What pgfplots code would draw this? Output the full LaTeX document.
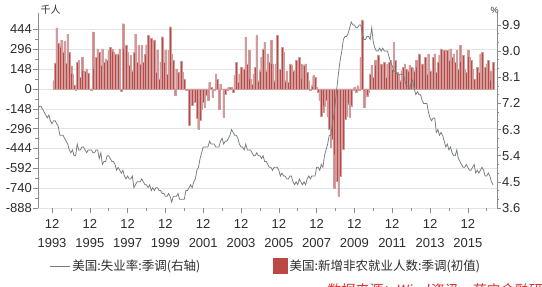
\documentclass[border=0pt]{standalone}
\usepackage{fontspec}
\setmainfont{Liberation Sans}
\newfontfamily\cjk{Noto Sans CJK SC}
\newfontfamily\cjkit[FakeSlant=0.2]{Noto Sans CJK SC}
\usepackage{pgfplots}
\usepackage{pgfplotstable}
\pgfplotsset{compat=1.18}
\definecolor{barred}{RGB}{188,72,70}
\definecolor{barpink}{RGB}{208,156,156}
\definecolor{linegray}{RGB}{115,125,120}
\definecolor{axgray}{RGB}{140,140,140}
\definecolor{gridgray}{RGB}{228,228,228}
\definecolor{txt}{RGB}{45,45,45}
\definecolor{wmred}{RGB}{225,45,45}

% US nonfarm payrolls change (thousands), monthly from 1994-01
\pgfplotstableread[row sep=\\]{
v\\
62\\194\\456\\344\\316\\365\\277\\355\\190\\410\\275\\174\\
112\\30\\-10\\200\\212\\87\\237\\137\\132\\150\\120\\0\\
-10\\427\\150\\237\\300\\275\\175\\300\\200\\225\\212\\287\\
312\\300\\275\\262\\250\\262\\300\\-15\\487\\300\\325\\275\\
175\\250\\137\\275\\410\\200\\325\\187\\325\\200\\260\\330\\
400\\100\\380\\185\\366\\125\\290\\75\\200\\390\\200\\290\\
110\\290\\465\\262\\212\\-45\\150\\125\\110\\210\\125\\75\\
-10\\0\\-270\\-20\\-120\\-45\\-100\\-220\\-300\\-235\\-150\\-100\\
-135\\-45\\-85\\50\\12\\-60\\-10\\112\\75\\-150\\37\\0\\
-210\\-37\\-12\\12\\12\\12\\-25\\100\\200\\50\\112\\162\\
50\\150\\387\\187\\290\\75\\37\\112\\162\\400\\62\\137\\
237\\300\\350\\137\\262\\200\\362\\187\\62\\187\\400\\75\\
150\\312\\275\\62\\130\\50\\187\\175\\137\\137\\212\\87\\
237\\187\\75\\180\\187\\125\\62\\-12\\25\\100\\87\\12\\
-25\\-85\\-200\\-175\\-125\\-85\\-200\\-300\\-437\\-375\\-737\\-487\\
-687\\-800\\-650\\-275\\-450\\-225\\-200\\-110\\-210\\-125\\-12\\12\\
-20\\25\\-12\\237\\515\\-137\\-12\\-50\\-25\\112\\175\\87\\
212\\175\\250\\112\\187\\100\\200\\87\\187\\200\\212\\150\\
350\\212\\125\\112\\62\\137\\162\\187\\150\\137\\175\\162\\
157\\137\\212\\162\\262\\125\\187\\112\\237\\112\\262\\137\\
87\\237\\262\\125\\200\\250\\300\\262\\287\\237\\287\\212\\
300\\237\\262\\200\\287\\150\\325\\200\\250\\150\\125\\287\\
237\\212\\150\\75\\25\\162\\125\\262\\275\\112\\162\\187\\
212\\137\\62\\200\\
}\nfp

% US unemployment rate (%), monthly from 1993-01
\pgfplotstableread[row sep=\\]{
u\\
7.3\\7.1\\7.0\\7.1\\7.1\\7.0\\6.9\\6.8\\6.7\\6.8\\6.6\\6.5\\
6.6\\6.6\\6.5\\6.4\\6.1\\6.1\\6.1\\6.0\\5.9\\5.8\\5.6\\5.5\\
5.6\\5.4\\5.4\\5.8\\5.6\\5.6\\5.7\\5.7\\5.6\\5.5\\5.6\\5.6\\
5.6\\5.5\\5.5\\5.6\\5.6\\5.3\\5.5\\5.1\\5.2\\5.2\\5.4\\5.4\\
5.3\\5.2\\5.2\\5.1\\4.9\\5.0\\4.9\\4.8\\4.9\\4.7\\4.6\\4.7\\
4.6\\4.6\\4.7\\4.3\\4.4\\4.5\\4.5\\4.5\\4.6\\4.5\\4.4\\4.4\\
4.3\\4.4\\4.2\\4.3\\4.2\\4.3\\4.3\\4.2\\4.2\\4.1\\4.1\\4.0\\
4.0\\4.1\\4.0\\3.8\\4.0\\4.0\\4.0\\4.1\\3.9\\3.9\\3.9\\3.9\\
4.2\\4.2\\4.3\\4.4\\4.3\\4.5\\4.6\\4.9\\5.0\\5.3\\5.5\\5.7\\
5.7\\5.7\\5.7\\5.9\\5.8\\5.8\\5.8\\5.7\\5.7\\5.7\\5.9\\6.0\\
5.8\\5.9\\5.9\\6.0\\6.1\\6.3\\6.2\\6.1\\6.1\\6.0\\5.8\\5.7\\
5.7\\5.6\\5.8\\5.6\\5.6\\5.6\\5.5\\5.4\\5.4\\5.5\\5.4\\5.4\\
5.3\\5.4\\5.2\\5.2\\5.1\\5.0\\5.0\\4.9\\5.0\\5.0\\5.0\\4.9\\
4.7\\4.8\\4.7\\4.7\\4.6\\4.6\\4.7\\4.7\\4.5\\4.4\\4.5\\4.4\\
4.6\\4.5\\4.4\\4.5\\4.4\\4.6\\4.7\\4.6\\4.7\\4.7\\4.7\\5.0\\
5.0\\4.9\\5.1\\5.0\\5.4\\5.6\\5.8\\6.1\\6.1\\6.5\\6.8\\7.3\\
7.8\\8.3\\8.7\\9.0\\9.4\\9.5\\9.5\\9.6\\9.8\\10.0\\9.9\\9.9\\
9.8\\9.8\\9.9\\9.9\\9.6\\9.4\\9.4\\9.5\\9.5\\9.4\\9.8\\9.3\\
9.1\\9.0\\9.0\\9.1\\9.0\\9.1\\9.0\\9.0\\9.0\\8.8\\8.6\\8.5\\
8.3\\8.3\\8.2\\8.2\\8.2\\8.2\\8.2\\8.0\\7.8\\7.8\\7.7\\7.9\\
8.0\\7.7\\7.5\\7.6\\7.5\\7.5\\7.3\\7.2\\7.2\\7.2\\6.9\\6.7\\
6.6\\6.7\\6.7\\6.2\\6.3\\6.1\\6.2\\6.1\\5.9\\5.7\\5.8\\5.6\\
5.7\\5.5\\5.4\\5.4\\5.6\\5.3\\5.2\\5.1\\5.0\\5.0\\5.1\\5.0\\
4.9\\4.9\\5.0\\5.1\\4.8\\4.9\\4.8\\4.9\\5.0\\4.9\\4.7\\4.7\\
4.8\\4.7\\4.5\\4.4\\
}\ur

\begin{document}
\begin{tikzpicture}
\path[use as bounding box] (0pt,0pt) rectangle (542pt,287pt);
\begin{axis}[
  at={(38pt,79pt)}, anchor=south west,
  width=459pt, height=195pt, scale only axis,
  xmin=1993.176, xmax=2017.46, ymin=-888, ymax=567,
  axis y line*=left, axis x line*=bottom,
  x axis line style={draw=none},
  y axis line style={axgray, line width=0.8pt},
  ytick={-888,-740,-592,-444,-296,-148,0,148,296,444},
  minor y tick num=1,
  ymajorgrids, major grid style={gridgray, line width=0.6pt},
  xtick={1993.917,1995.917,1997.917,1999.917,2001.917,2003.917,2005.917,2007.917,2009.917,2011.917,2013.917,2015.917},
  xticklabels={12\\1993,12\\1995,12\\1997,12\\1999,12\\2001,12\\2003,12\\2005,12\\2007,12\\2009,12\\2011,12\\2013,12\\2015},
  minor xtick={1994.917,1996.917,1998.917,2000.917,2002.917,2004.917,2006.917,2008.917,2010.917,2012.917,2014.917,2016.917},
  xticklabel style={align=center, font=\fontsize{13}{19}\selectfont, text=txt, yshift=-3pt},
  yticklabel style={font=\fontsize{13}{15}\selectfont, text=txt, inner xsep=1pt},
  /pgf/number format/assume math mode=true,
  tick align=outside, major tick length=5pt, minor tick length=3pt,
  every tick/.style={axgray, line width=0.6pt},
  legend columns=2,
  legend style={at={(0.025,-0.297)}, anchor=west, draw=none, fill=none,
    font=\cjk\fontsize{12.5}{15}\selectfont, text=txt, inner sep=0pt,
    /tikz/every even column/.append style={column sep=71pt}},
  legend cell align=left,
]
\addlegendimage{legend image code/.code={\draw[linegray, line width=0.8pt] (0pt,0pt) -- (20pt,0pt);}}
\addlegendentry{美国:失业率:季调(右轴)}
\addplot[ybar, bar width=0.0833, bar shift=0pt, fill=barred, draw=barpink, line width=0.22pt,
  legend image code/.code={\fill[barred] (0pt,-7pt) rectangle (14pt,8pt);}]
  table[x expr=1994+\coordindex/12, y index=0]{\nfp};
\addlegendentry{美国:新增非农就业人数:季调(初值)}
\end{axis}
\begin{axis}[
  at={(38pt,79pt)}, anchor=south west,
  width=459pt, height=195pt, scale only axis,
  xmin=1993.176, xmax=2017.46, ymin=3.6, ymax=10.31,
  axis y line*=right, axis x line=none,
  y axis line style={axgray, line width=0.8pt},
  ytick={3.6,4.5,5.4,6.3,7.2,8.1,9.0,9.9},
  minor y tick num=2,
  yticklabel style={font=\fontsize{13}{15}\selectfont, text=txt, inner xsep=1pt,
    /pgf/number format/.cd, fixed, fixed zerofill, precision=1},
  /pgf/number format/assume math mode=true,
  tick align=outside, major tick length=4pt, minor tick length=2.5pt,
  every tick/.style={axgray, line width=0.6pt},
]
\addplot[linegray, line width=0.75pt] table[x expr=1993+\coordindex/12, y index=0]{\ur};
\end{axis}
\node[anchor=west, font=\cjk\fontsize{10}{12}\selectfont, text=txt] at (37pt,277pt) {千人};
\node[anchor=west, font=\fontsize{9}{11}\selectfont, text=txt] at (487pt,277pt) {\%};
\node[anchor=west, font=\cjkit\fontsize{14}{16}\selectfont, text=wmred] at (322pt,-3pt) {数据来源：Wind资讯，苏宁金融研究院};
\end{tikzpicture}
\end{document}
